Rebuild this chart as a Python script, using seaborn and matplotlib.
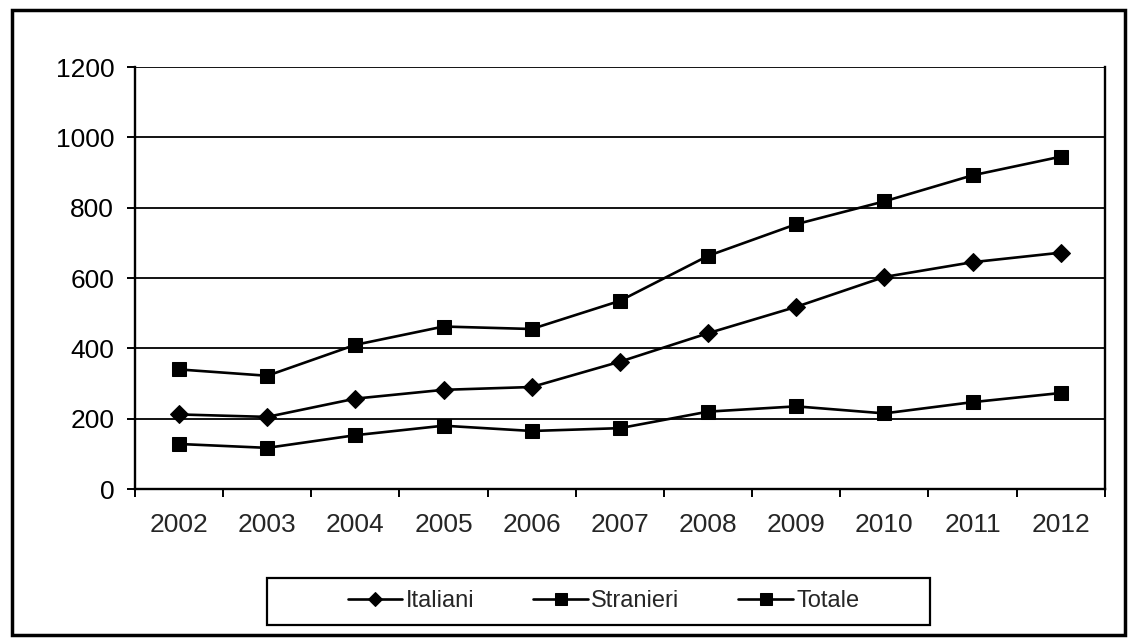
import pandas as pd
import matplotlib.pyplot as plt
import seaborn as sns
from matplotlib.patches import Rectangle
from matplotlib.ticker import FixedLocator

# values
years = ['2002', '2003', '2004', '2005', '2006', '2007', '2008', '2009', '2010', '2011', '2012']
italiani = [212, 205, 257, 282, 290, 362, 443, 518, 603, 645, 672]
stranieri = [128, 117, 153, 180, 165, 173, 220, 235, 215, 247, 273]
totale = [340, 322, 410, 462, 455, 535, 663, 753, 818, 892, 945]
y_ticks = [0, 200, 400, 600, 800, 1000, 1200]

sns.set_style("white")
plt.rcParams['font.family'] = ['Liberation Sans', 'DejaVu Sans']

fig = plt.figure(figsize=(11.39, 6.43), dpi=100)
ax = fig.add_axes([0.1185, 0.2395, 0.8515, 0.6563])

series = [('Italiani', italiani, 'D', 9),
          ('Stranieri', stranieri, 's', 10),
          ('Totale', totale, 's', 10)]
for name, vals, mk, ms in series:
    df = pd.DataFrame({'anno': years, 'valore': vals})
    sns.lineplot(data=df, x='anno', y='valore', ax=ax, color='black',
                 marker=mk, markersize=ms, markeredgecolor='black',
                 linewidth=1.9, label=name, legend=False, zorder=3)

ax.set_ylim(0, 1200)
ax.set_xlim(-0.5, len(years) - 0.5)
ax.set_yticks(y_ticks)
ax.set_xlabel('')
ax.set_ylabel('')
ax.yaxis.grid(True, color='black', linewidth=1.3)
ax.set_axisbelow(True)

for s in ['left', 'bottom', 'right']:
    ax.spines[s].set_visible(True)
    ax.spines[s].set_color('black')
    ax.spines[s].set_linewidth(1.7)
ax.spines['top'].set_visible(False)

ax.tick_params(axis='y', which='major', direction='out', length=6, width=1.4,
               pad=9, labelsize=19, left=True, colors='black')
ax.tick_params(axis='x', which='major', length=0, pad=17, labelsize=19)
ax.xaxis.set_minor_locator(FixedLocator([i - 0.5 for i in range(len(years) + 1)]))
ax.tick_params(axis='x', which='minor', direction='out', length=6, width=1.4,
               bottom=True, color='black')

# legend box (drawn separately so the entries can sit off-centre like the original)
fig.patches.append(Rectangle((267 / 1139, 1 - 625 / 643), 663 / 1139, 47 / 643,
                             transform=fig.transFigure, fill=False,
                             edgecolor='black', linewidth=1.6))
handles, labels = ax.get_legend_handles_labels()
fig.legend(handles, labels, loc='center', ncol=3,
           bbox_to_anchor=(0.530, 0.065), fontsize=17, markerscale=0.8,
           frameon=False, handlelength=2.3, handletextpad=0.15,
           columnspacing=2.5, borderaxespad=0)

# outer border of the scanned chart
fig.patches.append(Rectangle((0.0105, 0.0124), 0.9775, 0.9716,
                             transform=fig.transFigure, fill=False,
                             edgecolor='black', linewidth=2.5))

plt.savefig('out.png', dpi=100)
plt.close()
